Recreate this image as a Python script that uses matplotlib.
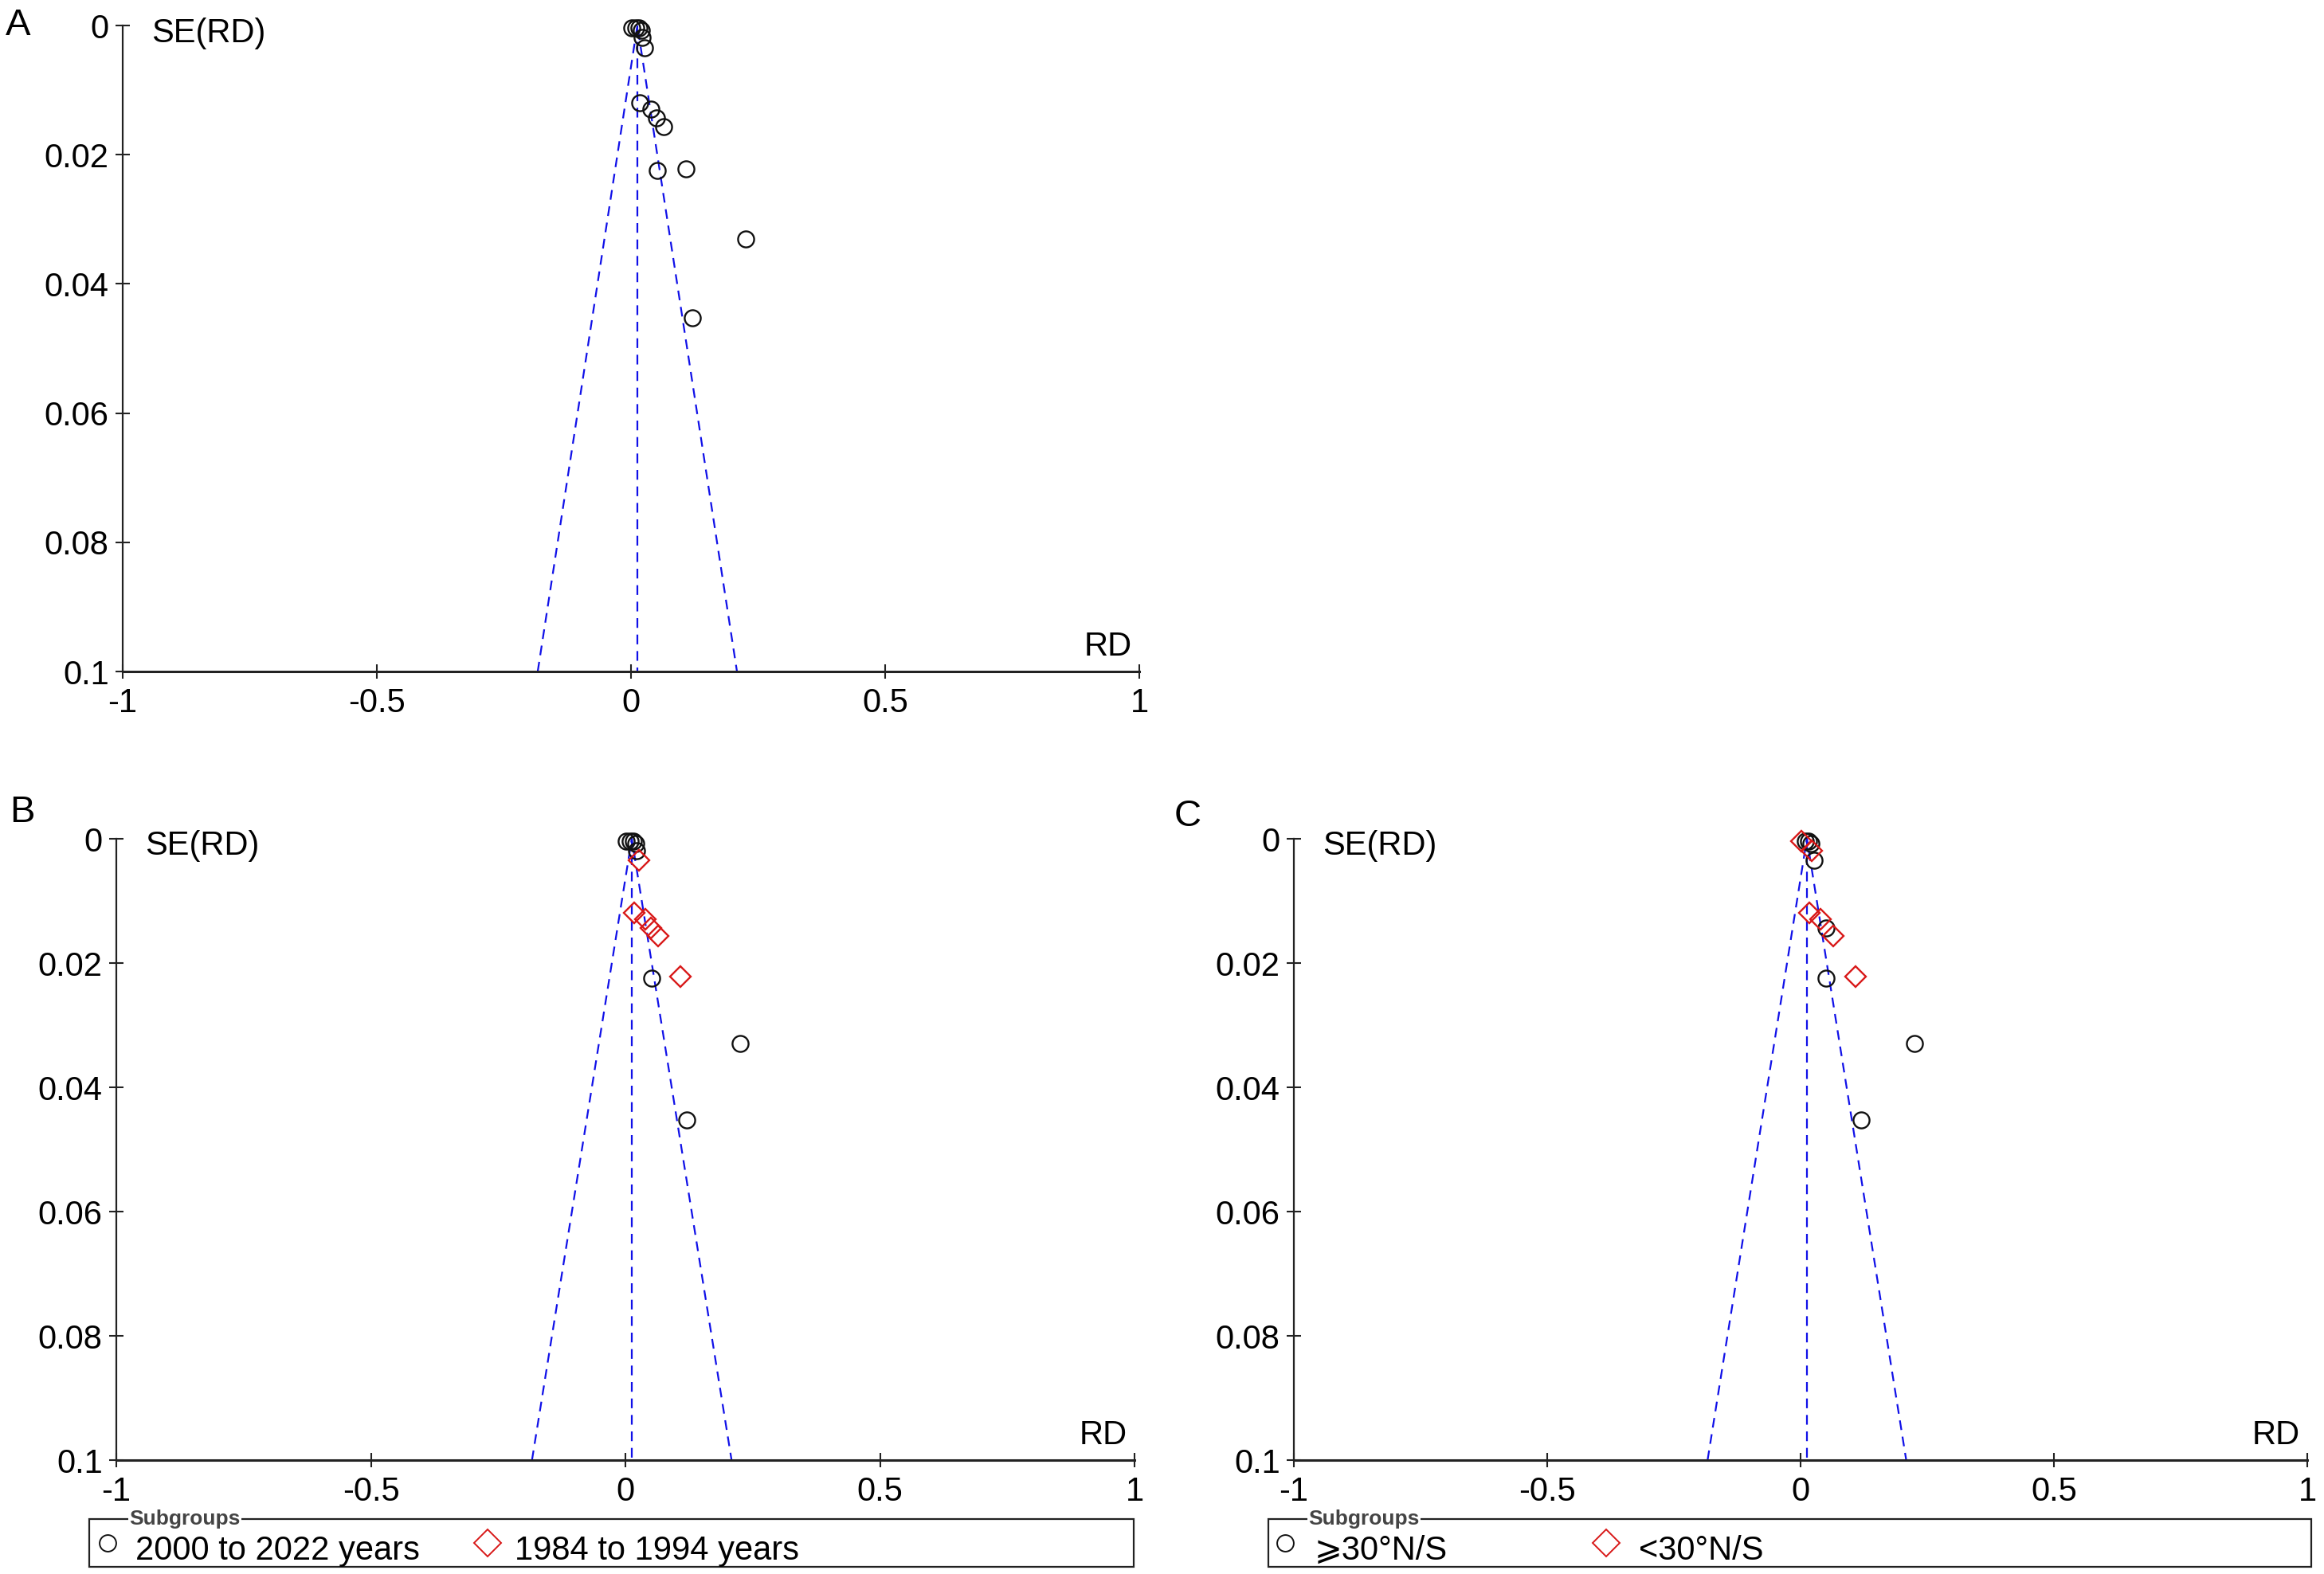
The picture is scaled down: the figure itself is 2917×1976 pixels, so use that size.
import matplotlib.pyplot as plt
from matplotlib.patches import Rectangle
from matplotlib.lines import Line2D

plt.rcParams['font.family'] = ['Liberation Sans', 'DejaVu Sans']

# study risk differences and their standard errors (same studies in all panels)
rd = [0.002, 0.009, 0.016, 0.020, 0.022, 0.026, 0.017, 0.039, 0.050, 0.064,
      0.051, 0.108, 0.225, 0.120]
se = [0.0004, 0.0004, 0.0004, 0.0008, 0.0019, 0.0034, 0.0119, 0.0130, 0.0143,
      0.0157, 0.0224, 0.0222, 0.0330, 0.0452]
pooled = 0.0125

# subgroup membership: 1 = first group (circle), 0 = second group (diamond)
group_b = [1, 1, 1, 1, 1, 0, 0, 0, 0, 0, 1, 0, 1, 1]
group_c = [0, 1, 1, 1, 0, 1, 0, 0, 1, 0, 1, 0, 1, 1]

labels_b = ['2000 to 2022 years', '1984 to 1994 years']
labels_c = ['\u2a7e30\u00b0N/S', '<30\u00b0N/S']

xticks = [-1, -0.5, 0, 0.5, 1]
xticklabels = ['-1', '-0.5', '0', '0.5', '1']
yticks = [0, 0.02, 0.04, 0.06, 0.08, 0.1]
yticklabels = ['0', '0.02', '0.04', '0.06', '0.08', '0.1']

W, H = 2917, 1976
fig = plt.figure(figsize=(W / 100, H / 100), dpi=100)

blue = '#1010e8'
red = '#d81818'


def funnel_axes(rect, groups=None):
    ax = fig.add_axes(rect)
    ax.set_xlim(-1, 1)
    ax.set_ylim(0.1, 0)
    for s in ['top', 'right']:
        ax.spines[s].set_visible(False)
    ax.spines['left'].set_linewidth(1.6)
    ax.spines['bottom'].set_linewidth(2.2)
    ax.spines['left'].set_color('#222222')
    ax.spines['bottom'].set_color('#222222')
    ax.set_xticks(xticks)
    ax.set_xticklabels(xticklabels)
    ax.set_yticks(yticks)
    ax.set_yticklabels(yticklabels)
    ax.tick_params(direction='inout', length=13, width=1.5, labelsize=30,
                   color='#222222')
    ax.tick_params(axis='x', pad=8)
    ax.tick_params(axis='y', pad=6)

    # funnel
    ax.plot([pooled - 1.96 * 0.1, pooled, pooled + 1.96 * 0.1], [0.1, 0, 0.1],
            color=blue, lw=1.6, ls=(0, (5.5, 3.8)), clip_on=False)
    ax.plot([pooled, pooled], [0, 0.1], color=blue, lw=1.6,
            ls=(0, (5.5, 3.8)), clip_on=False)

    if groups is None:
        ax.plot(rd, se, 'o', ms=14.5, mfc='none', mec='#111111', mew=1.7,
                clip_on=False)
    else:
        x1 = [r for r, g in zip(rd, groups) if g == 1]
        y1 = [s for s, g in zip(se, groups) if g == 1]
        x0 = [r for r, g in zip(rd, groups) if g == 0]
        y0 = [s for s, g in zip(se, groups) if g == 0]
        ax.plot(x1, y1, 'o', ms=14.5, mfc='none', mec='#111111', mew=1.7,
                clip_on=False)
        ax.plot(x0, y0, 'D', ms=13, mfc='none', mec=red, mew=1.7,
                clip_on=False)

    ax.text(0.028, 0.988, 'SE(RD)', transform=ax.transAxes, fontsize=30,
            ha='left', va='center')
    ax.text(0.993, 0.014, 'RD', transform=ax.transAxes, fontsize=30,
            ha='right', va='bottom')
    return ax


def legend_box(x0, x1, items):
    y0, y1 = 1 - 1967 / H, 1 - 1907 / H
    fig.patches.append(Rectangle((x0, y0), x1 - x0, y1 - y0,
                                 transform=fig.transFigure, fill=False,
                                 ec='#222222', lw=1.6))
    fig.text(x0 + 50 / W, y1, 'Subgroups', fontsize=19, fontweight='bold',
             color='#444444', ha='left', va='center',
             bbox=dict(fc='white', ec='none', pad=1))
    for (mx, marker, label, tx) in items:
        if marker == 'o':
            fig.add_artist(Line2D([mx], [1 - 1937 / H], marker='o', ms=15,
                                  mfc='none', mec='#111111', mew=1.4,
                                  transform=fig.transFigure))
        else:
            fig.add_artist(Line2D([mx], [1 - 1937 / H], marker='D', ms=17,
                                  mfc='none', mec=red, mew=1.4,
                                  transform=fig.transFigure))
        fig.text(tx, 1 - 1958 / H, label, fontsize=30, ha='left',
                 va='baseline')


funnel_axes([154 / W, 1 - 843 / H, 1276 / W, 811 / H])
funnel_axes([146 / W, 1 - 1833 / H, 1278 / W, 780 / H], group_b)
funnel_axes([1624 / W, 1 - 1833 / H, 1272 / W, 780 / H], group_c)

fig.text(7 / W, 1 - 10 / H, 'A', fontsize=34, va='top', ha='left')
fig.text(12 / W, 1 - 998 / H, 'B', fontsize=34, va='top', ha='left')
fig.text(1474 / W, 1 - 1003 / H, 'C', fontsize=34, va='top', ha='left')

legend_box(112 / W, 1423 / W,
           [(135 / W, 'o', labels_b[0], 170 / W),
            (612 / W, 'D', labels_b[1], 646 / W)])
legend_box(1592 / W, 2901 / W,
           [(1613 / W, 'o', labels_c[0], 1650 / W),
            (2016 / W, 'D', labels_c[1], 2057 / W)])

fig.savefig('out.png', dpi=100, facecolor='white')
